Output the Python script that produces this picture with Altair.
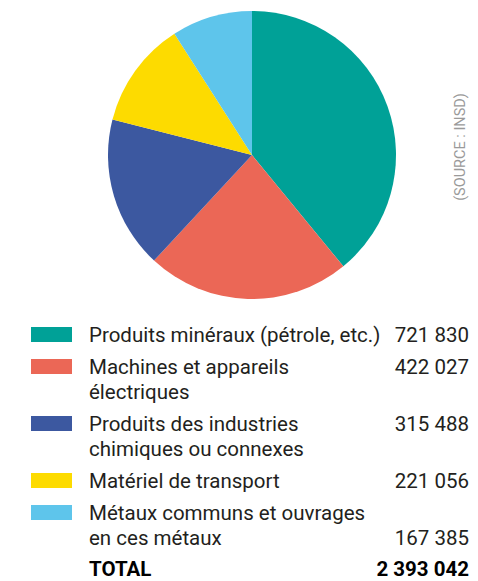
import altair as alt
import pandas as pd

# ---- data ----
categories = [
    "Produits minéraux (pétrole, etc.)",
    "Machines et appareils électriques",
    "Produits des industries chimiques ou connexes",
    "Matériel de transport",
    "Métaux communs et ouvrages en ces métaux",
]
label_lines = [
    ["Produits minéraux (pétrole, etc.)"],
    ["Machines et appareils", "électriques"],
    ["Produits des industries", "chimiques ou connexes"],
    ["Matériel de transport"],
    ["Métaux communs et ouvrages", "en ces métaux"],
]
values = [721830, 422027, 315488, 221056, 167385]
value_on_line = [0, 0, 0, 0, 1]
total_label = "TOTAL"
total_value = 2393042
colors = ["#00a197", "#eb6756", "#3c58a0", "#fddb00", "#5ec5eb"]
source = "(SOURCE : INSD)"


def fmt(v):
    return f"{v:,}".replace(",", " ")


FONT = "Roboto"
TXT = "#231f20"
FS = 20.5

# ---- layout (computed) ----
W, H = 462, 573
first_base = 334
item_gap = 32
line_gap = 25

pie_df = pd.DataFrame({"cat": categories, "value": values, "idx": range(len(values))})

sw_rows, line_rows, val_rows = [], [], []
base = first_base
for i, cat in enumerate(categories):
    sw_rows.append({"cat": cat, "y": base - 15, "y2": base})
    for j, ln in enumerate(label_lines[i]):
        line_rows.append({"t": ln, "y": base + j * line_gap})
    val_rows.append({"t": fmt(values[i]), "y": base + value_on_line[i] * line_gap})
    base += (len(label_lines[i]) - 1) * line_gap + item_gap
total_y = base - 1
tot_df = pd.DataFrame({"t": [total_label], "v": [fmt(total_value)], "y": [total_y]})

color_scale = alt.Scale(domain=categories, range=colors)

pie = alt.Chart(pie_df).mark_arc(outerRadius=144).encode(
    theta=alt.Theta("value:Q", stack=True),
    order=alt.Order("idx:Q"),
    color=alt.Color("cat:N", scale=color_scale, legend=None),
    x=alt.value(244),
    y=alt.value(147),
)

swatches = alt.Chart(pd.DataFrame(sw_rows)).mark_rect().encode(
    x=alt.value(23),
    x2=alt.value(64),
    y=alt.Y("y:Q", scale=None),
    y2="y2:Q",
    color=alt.Color("cat:N", scale=color_scale, legend=None),
)

labels = alt.Chart(pd.DataFrame(line_rows)).mark_text(
    align="left", baseline="alphabetic", font=FONT, fontSize=FS, color=TXT
).encode(x=alt.value(81), y=alt.Y("y:Q", scale=None), text="t:N")

vals = alt.Chart(pd.DataFrame(val_rows)).mark_text(
    align="right", baseline="alphabetic", font=FONT, fontSize=FS, color=TXT
).encode(x=alt.value(461), y=alt.Y("y:Q", scale=None), text="t:N")

tot_l = alt.Chart(tot_df).mark_text(
    align="left", baseline="alphabetic", font=FONT, fontSize=FS, fontWeight="bold", color="#000"
).encode(x=alt.value(81), y=alt.Y("y:Q", scale=None), text="t:N")

tot_v = alt.Chart(tot_df).mark_text(
    align="right", baseline="alphabetic", font=FONT, fontSize=FS, fontWeight="bold", color="#000"
).encode(x=alt.value(461), y=alt.Y("y:Q", scale=None), text="v:N")

src = alt.Chart(pd.DataFrame({"t": [source]})).mark_text(
    angle=270, align="center", baseline="alphabetic", font=FONT, fontSize=14.5,
    color="#9a9a9a"
).encode(x=alt.value(457), y=alt.value(139), text="t:N")

chart = alt.layer(pie, swatches, labels, vals, tot_l, tot_v, src).properties(
    width=W, height=H, padding=0,
    autosize=alt.AutoSizeParams(type="none"),
).configure_view(stroke=None)

chart.save("out.html", embed_options={"renderer": "svg", "actions": False})
